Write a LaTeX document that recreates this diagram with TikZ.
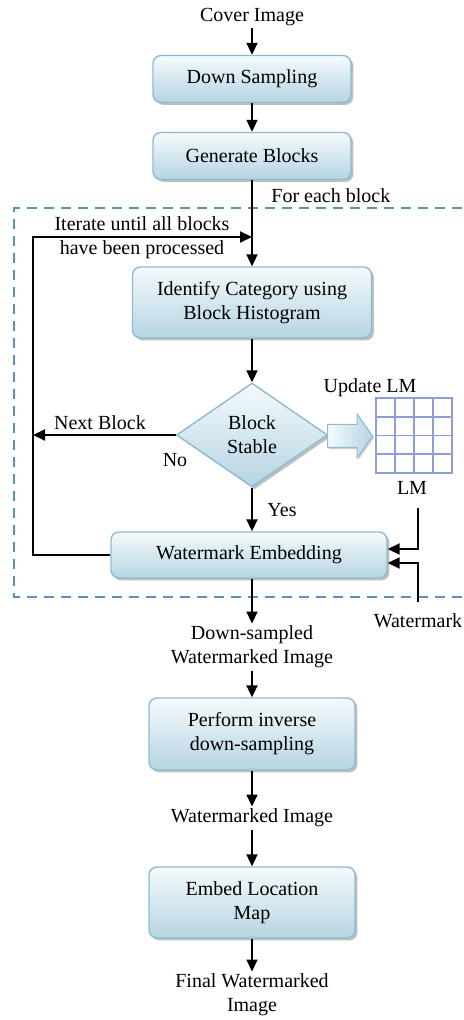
\documentclass[tikz,border=0pt]{standalone}
\usepackage{fontspec}
\setmainfont{Liberation Serif}
\usetikzlibrary{shapes.geometric,shapes.arrows,arrows.meta,shadows,calc}
\definecolor{boxedge}{HTML}{8DBBD2}
\definecolor{boxtop}{HTML}{F5FAFC}
\definecolor{boxbot}{HTML}{B5D4E2}
\definecolor{frameblue}{HTML}{5B91BD}
\definecolor{gridblue}{HTML}{8E9ED6}

\begin{document}
\begin{tikzpicture}[x=0.5pt,y=-0.5pt,
  txt/.style={font=\fontsize{10}{12}\selectfont, align=center, inner sep=1pt},
  shaded/.style={draw=boxedge, line width=0.7pt, top color=boxtop, bottom color=boxbot,
    drop shadow={shadow xshift=1.2pt, shadow yshift=-1.2pt, fill=black, opacity=0.25}},
  procbox/.style={txt, shaded, rectangle, rounded corners=4pt},
  flow/.style={line width=1pt, -{Triangle[length=6pt,width=5.5pt]}},
  gridline/.style={gridblue, line width=0.8pt}]

\useasboundingbox (0,0) rectangle (464,1020);

% loop region
\draw[frameblue, line width=0.8pt, dash pattern=on 5pt off 3.5pt]
  (462,208) -- (14,208) -- (14,597) -- (462,597);

% process steps
\node[txt] (cover) at (252,17) {Cover Image};
\node[procbox, minimum width=99pt, minimum height=23.5pt] (down) at (252,79) {Down Sampling};
\node[procbox, minimum width=99pt, minimum height=23.5pt] (gen) at (252,156) {Generate Blocks};
\node[txt, anchor=west] (foreach) at (269,196) {For each block};
\node[txt] (iter) at (142,237.5) {Iterate until all blocks\\have been processed};
\node[procbox, minimum width=119.5pt, minimum height=35.5pt] (ident) at (252,302.5)
  {Identify Category using\\Block Histogram};
\node[txt, shaded, diamond, aspect=1.45, inner sep=0pt, minimum width=75.5pt,
  minimum height=52pt] (stable) at (252,435) {Block\\Stable};

% update arrow and location map
\node[single arrow, draw=boxedge, line width=0.5pt, left color=boxtop, right color=boxbot,
  drop shadow={shadow xshift=0.8pt, shadow yshift=-0.8pt, fill=black, opacity=0.2},
  inner xsep=0pt, inner ysep=5.5pt, minimum height=22.5pt,
  single arrow head extend=5.25pt, single arrow tip angle=110, anchor=west]
  (upd) at (327,436) {};
\node[draw=gridblue, line width=0.8pt, minimum width=38pt, minimum height=37.5pt,
  inner sep=0pt, outer sep=0pt] (lmgrid) at (414,435.5) {};
\foreach \k in {1,2,3}{
  \draw[gridline] ({376+19*\k},398) -- ({376+19*\k},473);
  \draw[gridline] (376,{398+18.75*\k}) -- (452,{398+18.75*\k});
}
\node[txt] (updlabel) at (370,388) {Update LM};
\node[txt] (lmlabel) at (412,488) {LM};

\node[txt] (nextlbl) at (100,423) {Next Block};
\node[txt] (nolbl) at (175,460) {No};
\node[txt] (yeslbl) at (282,510) {Yes};

\node[procbox, minimum width=138pt, minimum height=23pt] (we) at (249,555) {Watermark Embedding};
\node[txt] (wmlbl) at (418,621) {Watermark};

\node[txt] (dsimg) at (252,647) {Down-sampled\\Watermarked Image};
\node[procbox, minimum width=103pt, minimum height=36pt] (inv) at (252,734)
  {Perform inverse\\down-sampling};
\node[txt] (wmimg) at (252,818) {Watermarked Image};
\node[procbox, minimum width=103pt, minimum height=35.5pt] (embed) at (252,902.5)
  {Embed Location\\Map};
\node[txt] (final) at (252,995) {Final Watermarked\\Image};

% helper points
\coordinate (join) at (252,237);
\coordinate (loopx) at (33,237);
\coordinate (lmout) at (418,508);
\coordinate (lmin) at ($(we.east)+(0,-6)$);
\coordinate (wmout) at (418,602);
\coordinate (wmin) at ($(we.east)+(0,8)$);

% connectors
\draw[flow] (cover) -- (down);
\draw[flow] (down) -- (gen);
\draw[flow] (gen) -- (ident);
\draw[flow] (we.west) -- (we.west -| loopx) -- (loopx) -- (join);
\draw[flow] (ident) -- (stable);
\draw[flow] (stable.west) -- (stable.west -| loopx);
\draw[flow] (stable.south) -- (we.north -| stable.south);
\draw[flow] (lmout) -- (lmout |- lmin) -- (lmin);
\draw[flow] (wmout) -- (wmout |- wmin) -- (wmin);
\draw[flow] (dsimg.north |- we.south) -- (dsimg.north);
\draw[flow] (dsimg) -- (inv);
\draw[flow] (inv) -- (wmimg);
\draw[flow] (wmimg) -- (embed);
\draw[flow] (embed) -- (final);
\end{tikzpicture}
\end{document}
